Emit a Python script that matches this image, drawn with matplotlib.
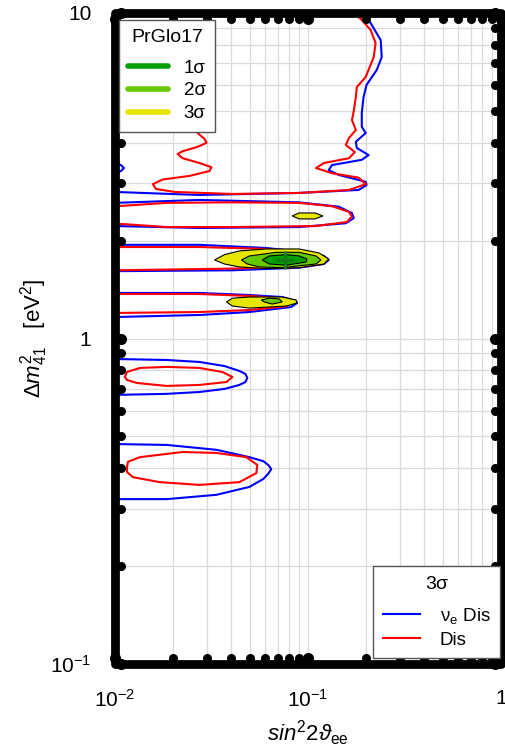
import numpy as np
import matplotlib
matplotlib.use('Agg')
import matplotlib.pyplot as plt
import matplotlib.transforms as mtransforms
from matplotlib.lines import Line2D
from matplotlib.patches import Rectangle
from matplotlib.ticker import FuncFormatter, NullFormatter

# ---------------- data ----------------
# nu_e disappearance 3 sigma contour (blue)
nue_top_sin = [0.1875, 0.211, 0.238, 0.241, 0.227, 0.201, 0.194, 0.190, 0.190, 0.199, 0.177, 0.179,
               0.206, 0.190, 0.133, 0.128, 0.1445, 0.199, 0.201, 0.183, 0.0899, 0.0274, 0.0100]
nue_top_dm = [10.0, 9.32, 8.26, 7.32, 6.68, 6.01, 5.52, 4.93, 4.47, 4.28, 4.02, 3.85,
              3.66, 3.54, 3.41, 3.29, 3.18, 3.03, 2.96, 2.86, 2.80, 2.76, 2.82]
nue_bump_sin = [0.0100, 0.01074, 0.01113, 0.01074, 0.0100]
nue_bump_dm = [3.46, 3.41, 3.34, 3.27, 3.22]
nue_l2_sin = [0.0100, 0.0274, 0.0899, 0.1445, 0.1687, 0.1726, 0.157, 0.0899, 0.0274, 0.0100]
nue_l2_dm = [2.61, 2.665, 2.62, 2.54, 2.43, 2.344, 2.26, 2.20, 2.185, 2.216]
nue_l3_sin = [0.0100, 0.0274, 0.0608, 0.0976, 0.1209, 0.128, 0.1209, 0.0899, 0.0406, 0.0100]
nue_l3_dm = [1.94, 1.94, 1.897, 1.84, 1.793, 1.743, 1.694, 1.65, 1.62, 1.61]
nue_l4_sin = [0.0100, 0.0274, 0.0497, 0.0735, 0.0867, 0.0878, 0.0817, 0.0497, 0.0274, 0.0100]
nue_l4_dm = [1.38, 1.38, 1.36, 1.341, 1.304, 1.285, 1.249, 1.206, 1.181, 1.164]
nue_l5_sin = [0.0100, 0.01854, 0.0274, 0.0369, 0.0441, 0.0474, 0.0485, 0.0474, 0.0441, 0.0369,
              0.0274, 0.01854, 0.0100]
nue_l5_dm = [0.865, 0.859, 0.847, 0.823, 0.795, 0.778, 0.757, 0.735, 0.720, 0.700,
             0.685, 0.676, 0.671]
nue_l6_sin = [0.0100, 0.01854, 0.0336, 0.0497, 0.0586, 0.0622, 0.0645, 0.0622, 0.0586, 0.0497,
              0.0336, 0.01854, 0.0100]
nue_l6_dm = [0.474, 0.471, 0.455, 0.432, 0.420, 0.409, 0.397, 0.384, 0.370, 0.350,
             0.331, 0.321, 0.321]

# disappearance 3 sigma contour (red)
dis_top_sin = [0.0298, 0.0274, 0.0291, 0.0259, 0.0274, 0.0249, 0.0268, 0.0291, 0.0298, 0.0268,
               0.0224, 0.0211, 0.0224, 0.0274, 0.0316, 0.0309, 0.0244, 0.0177, 0.0157, 0.0163,
               0.0204, 0.0406, 0.0899, 0.163, 0.199, 0.183, 0.133, 0.110, 0.121, 0.163,
               0.175, 0.157, 0.163, 0.177, 0.169, 0.173, 0.177, 0.179, 0.199, 0.219,
               0.224, 0.211, 0.190, 0.173]
dis_top_dm = [10.0, 8.56, 7.43, 6.08, 5.40, 4.69, 4.28, 4.10, 3.99, 3.88,
              3.76, 3.69, 3.58, 3.46, 3.36, 3.27, 3.16, 3.08, 2.98, 2.88,
              2.82, 2.78, 2.80, 2.86, 2.98, 3.12, 3.22, 3.34, 3.46, 3.58,
              3.74, 3.93, 4.13, 4.37, 4.69, 5.04, 5.52, 5.92, 6.36, 7.32,
              8.09, 8.87, 9.52, 10.0]
dis_l2_sin = [0.0100, 0.01024, 0.01854, 0.0406, 0.0899, 0.133, 0.1627, 0.1687, 0.1589, 0.110,
              0.0406, 0.01854, 0.01061, 0.0100, 0.01036, 0.0100]
dis_l2_dm = [2.50, 2.55, 2.61, 2.62, 2.61, 2.55, 2.45, 2.37, 2.28, 2.216,
             2.20, 2.20, 2.25, 2.296, 2.37, 2.43]
dis_l3_sin = [0.0100, 0.0274, 0.0608, 0.0976, 0.1181, 0.1253, 0.1181, 0.0899, 0.0406, 0.0100]
dis_l3_dm = [1.91, 1.91, 1.884, 1.832, 1.78, 1.743, 1.694, 1.659, 1.64, 1.62]
dis_l4_sin = [0.0100, 0.0274, 0.0497, 0.0709, 0.0817, 0.0828, 0.0780, 0.0497, 0.0274, 0.0100]
dis_l4_dm = [1.37, 1.37, 1.351, 1.33, 1.304, 1.295, 1.258, 1.223, 1.206, 1.198]
dis_l5_sin = [0.01126, 0.01153, 0.01346, 0.01854, 0.0274, 0.0360, 0.0406, 0.0378, 0.0274,
              0.01854, 0.01299, 0.01153, 0.01126]
dis_l5_dm = [0.762, 0.789, 0.812, 0.818, 0.812, 0.789, 0.762, 0.735, 0.720,
             0.715, 0.730, 0.746, 0.762]
dis_l6_sin = [0.01153, 0.01167, 0.01346, 0.0224, 0.0336, 0.0479, 0.0546, 0.0540, 0.0441,
              0.0274, 0.01706, 0.01238, 0.01153, 0.01153]
dis_l6_dm = [0.400, 0.418, 0.432, 0.448, 0.445, 0.432, 0.409, 0.386, 0.362,
             0.355, 0.362, 0.375, 0.389, 0.400]

# PrGlo17 allowed regions
sig3_a_sin = [0.0328, 0.0369, 0.0441, 0.0608, 0.0899, 0.114, 0.128, 0.1209, 0.0899, 0.0608, 0.0441, 0.0369]
sig3_a_dm = [1.743, 1.81, 1.858, 1.884, 1.884, 1.832, 1.755, 1.694, 1.65, 1.64, 1.659, 1.694]
sig2_a_sin = [0.0452, 0.0497, 0.0684, 0.0899, 0.110, 0.1167, 0.110, 0.0735, 0.0559, 0.0485]
sig2_a_dm = [1.743, 1.793, 1.84, 1.84, 1.793, 1.743, 1.694, 1.65, 1.659, 1.694]
sig1_a_sin = [0.0579, 0.0630, 0.0771, 0.0899, 0.0989, 0.0976, 0.0771, 0.0630]
sig1_a_dm = [1.743, 1.793, 1.81, 1.793, 1.755, 1.718, 1.68, 1.694]
sig3_b_sin = [0.0378, 0.0406, 0.0497, 0.0735, 0.0867, 0.0878, 0.0771, 0.0497, 0.0406]
sig3_b_dm = [1.295, 1.33, 1.341, 1.341, 1.313, 1.285, 1.258, 1.240, 1.258]
sig2_b_sin = [0.0573, 0.0630, 0.0709, 0.0735, 0.0652, 0.0593]
sig2_b_dm = [1.313, 1.33, 1.323, 1.295, 1.276, 1.295]
sig3_c_sin = [0.0828, 0.0899, 0.1087, 0.1195, 0.1087, 0.0899]
sig3_c_dm = [2.38, 2.43, 2.43, 2.38, 2.33, 2.33]
best_fit_sin = [0.0761]
best_fit_dm = [1.743]

sigma_labels = ['1σ', '2σ', '3σ']
sigma_colors = ['#00a000', '#66c800', '#e6e600']
line_labels = ['ν$_{\\mathrm{e}}$ Dis', 'Dis']
line_colors = ['#0000ff', '#ff0000']

# ---------------- style ----------------
plt.rcParams['font.family'] = ['Liberation Sans', 'DejaVu Sans']
plt.rcParams['mathtext.fontset'] = 'custom'
plt.rcParams['mathtext.rm'] = 'Liberation Sans'
plt.rcParams['mathtext.it'] = 'Liberation Sans:italic'
plt.rcParams['mathtext.bf'] = 'Liberation Sans:bold'

W, H = 506, 751
L, R, T, B = 115, 501, 13, 664
fig = plt.figure(figsize=(W / 100, H / 100), dpi=100)
ax = fig.add_axes([L / W, 1 - B / H, (R - L) / W, (B - T) / H])
ax.set_xscale('log')
ax.set_yscale('log')
ax.set_xlim(0.01, 1)
ax.set_ylim(0.1, 10)
ax.grid(True, which='both', color='#dadada', lw=0.9)
ax.set_axisbelow(True)
for s in ax.spines.values():
    s.set_visible(False)


def fmt(v, pos):
    if abs(v - 1) < 1e-9:
        return '1'
    if abs(v - 10) < 1e-9:
        return '10'
    return r'$10^{%d}$' % int(round(np.log10(v)))


ax.xaxis.set_major_formatter(FuncFormatter(fmt))
ax.yaxis.set_major_formatter(FuncFormatter(fmt))
ax.xaxis.set_minor_formatter(NullFormatter())
ax.yaxis.set_minor_formatter(NullFormatter())
ax.tick_params(which='both', length=0, labelsize=15)
ax.tick_params(axis='x', which='major', pad=18)
ax.tick_params(axis='y', which='major', pad=17)

# contour lines
lw = 1.5
for xs, ys in [(nue_top_sin, nue_top_dm), (nue_bump_sin, nue_bump_dm), (nue_l2_sin, nue_l2_dm),
               (nue_l3_sin, nue_l3_dm), (nue_l4_sin, nue_l4_dm), (nue_l5_sin, nue_l5_dm),
               (nue_l6_sin, nue_l6_dm)]:
    ax.plot(xs, ys, color=line_colors[0], lw=lw, zorder=2, solid_joinstyle='round')
for xs, ys in [(dis_top_sin, dis_top_dm), (dis_l2_sin, dis_l2_dm), (dis_l3_sin, dis_l3_dm),
               (dis_l4_sin, dis_l4_dm), (dis_l5_sin, dis_l5_dm), (dis_l6_sin, dis_l6_dm)]:
    ax.plot(xs, ys, color=line_colors[1], lw=lw, zorder=2.1, solid_joinstyle='round')

# filled allowed regions
for xs, ys, c in [(sig3_a_sin, sig3_a_dm, sigma_colors[2]), (sig2_a_sin, sig2_a_dm, sigma_colors[1]),
                  (sig1_a_sin, sig1_a_dm, sigma_colors[0]), (sig3_b_sin, sig3_b_dm, sigma_colors[2]),
                  (sig2_b_sin, sig2_b_dm, sigma_colors[1]), (sig3_c_sin, sig3_c_dm, sigma_colors[2])]:
    ax.fill(xs, ys, facecolor=c, edgecolor='black', lw=0.8, zorder=3)
ax.plot(best_fit_sin, best_fit_dm, marker='+', ms=13, mew=2.2, color='#157a15', ls='none', zorder=3.5)

# thick rounded frame
ax.add_patch(Rectangle((0, 0), 1, 1, transform=ax.transAxes, fill=False, lw=6.3, ec='black',
                       joinstyle='round', clip_on=False, zorder=6))

# tick dots on the frame
off = 6 / 100.0
ds = fig.dpi_scale_trans
xmaj = [v for v in ax.xaxis.get_majorticklocs() if 0.01 <= v <= 1]
xmin = [v for v in ax.xaxis.get_minorticklocs() if 0.01 < v < 1]
ymaj = [v for v in ax.yaxis.get_majorticklocs() if 0.1 <= v <= 10]
ymin = [v for v in ax.yaxis.get_minorticklocs() if 0.1 < v < 10]
for locs, ms in [(xmaj, 8.0), (xmin, 6.5)]:
    for yy, dy in [(0, off), (1, -off)]:
        tr = ax.get_xaxis_transform() + mtransforms.ScaledTranslation(0, dy, ds)
        ax.plot(locs, [yy] * len(locs), 'o', ms=ms, mew=0, color='black', transform=tr,
                clip_on=False, zorder=6)
for locs, ms in [(ymaj, 8.0), (ymin, 6.5)]:
    for xx, dx in [(0, off), (1, -off)]:
        tr = ax.get_yaxis_transform() + mtransforms.ScaledTranslation(dx, 0, ds)
        ax.plot([xx] * len(locs), locs, 'o', ms=ms, mew=0, color='black', transform=tr,
                clip_on=False, zorder=6)

# legends
h1 = [Line2D([], [], color=c, lw=4, solid_capstyle='round') for c in sigma_colors]
leg1 = ax.legend(h1, sigma_labels, title='PrGlo17', loc='upper left',
                 bbox_to_anchor=((119 - L) / (R - L), 1 - (20 - T) / (B - T)), borderaxespad=0,
                 fontsize=13.5, title_fontsize=14, fancybox=False, edgecolor='#555555', framealpha=1,
                 handlelength=2.1, handletextpad=0.85, labelspacing=0.3, borderpad=0.5)
leg1.get_frame().set_linewidth(1.0)
leg1._legend_box.sep = 9.5
leg1.set_zorder(10)
ax.add_artist(leg1)

h2 = [Line2D([], [], color=c, lw=1.5) for c in line_colors]
leg2 = ax.legend(h2, line_labels, title='3σ', loc='lower right',
                 bbox_to_anchor=((500 - L) / (R - L), (B - 658) / (B - T)), borderaxespad=0,
                 fontsize=13.5, title_fontsize=14, fancybox=False, edgecolor='#555555', framealpha=1,
                 handlelength=2.0, handletextpad=1.05, labelspacing=0.3, borderpad=0.5)
leg2.get_frame().set_linewidth(1.0)
leg2._legend_box.sep = 9.5
leg2.set_zorder(10)

ax.set_ylabel(r'$\Delta m^2_{41}$   [eV$^2$]', fontsize=16)
ax.yaxis.set_label_coords(-(L - 50) / (R - L), 0.5)
ax.set_xlabel(r'$sin^2 2\vartheta_{\mathrm{ee}}$', fontsize=16)
ax.xaxis.set_label_coords(0.5, -(718 - B) / (B - T))

fig.savefig('out.png', dpi=100)
